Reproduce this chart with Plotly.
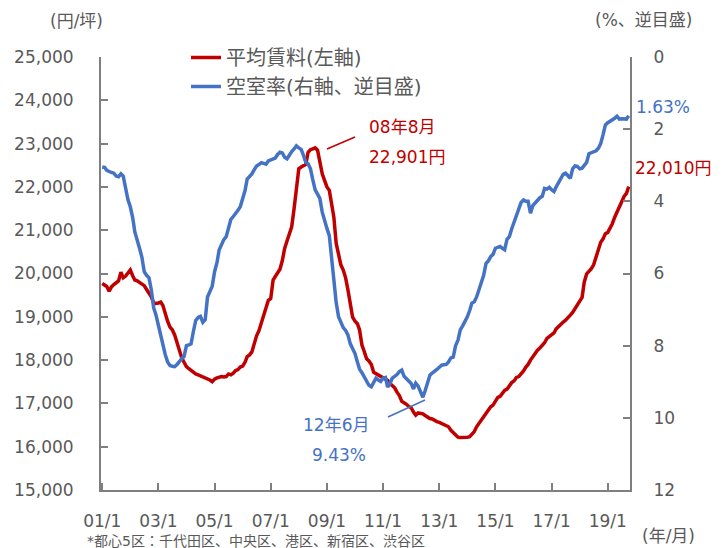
import pandas as pd
import plotly.graph_objects as go

# ---- data (monthly, 2001/1 - 2019/10) ----
start_month = "2001-01-01"

rent = (
    [19770, 19730, 19700, 19590, 19690, 19745, 19780, 19830, 20030, 19900, 19940, 20020]   # 2001
    + [20080, 19950, 19850, 19830, 19790, 19760, 19720, 19630, 19540, 19460, 19320, 19310]  # 2002
    + [19320, 19340, 19260, 19050, 18900, 18760, 18700, 18580, 18400, 18250, 18050, 17950]  # 2003
    + [17850, 17800, 17760, 17720, 17680, 17660, 17640, 17620, 17600, 17580, 17540, 17500]  # 2004
    + [17560, 17590, 17600, 17620, 17610, 17620, 17680, 17660, 17700, 17760, 17780, 17840]  # 2005
    + [17860, 17950, 18080, 18120, 18190, 18400, 18560, 18680, 18860, 19020, 19250, 19380]  # 2006
    + [19420, 19850, 19930, 20020, 20100, 20300, 20580, 20750, 20920, 21080, 21500, 21950]  # 2007
    + [22420, 22460, 22500, 22520, 22800, 22860, 22880, 22901, 22850, 22540, 22300, 22150]  # 2008
    + [22000, 21920, 21600, 21300, 20700, 20400, 20200, 20080, 19900, 19620, 19250, 18990]  # 2009
    + [18900, 18840, 18700, 18350, 18200, 18030, 17980, 17900, 17720, 17690, 17640, 17610]  # 2010
    + [17590, 17570, 17530, 17460, 17420, 17360, 17260, 17180, 17050, 17020, 16980, 16930]  # 2011
    + [16900, 16800, 16730, 16780, 16770, 16760, 16720, 16680, 16650, 16640, 16600, 16580]  # 2012
    + [16560, 16530, 16500, 16490, 16460, 16380, 16330, 16260, 16220, 16210, 16210, 16207]  # 2013
    + [16220, 16230, 16300, 16350, 16460, 16540, 16600, 16700, 16760, 16850, 16920, 16960]  # 2014
    + [17050, 17140, 17160, 17250, 17300, 17330, 17420, 17480, 17520, 17600, 17620, 17680]  # 2015
    + [17750, 17840, 17900, 18000, 18080, 18150, 18230, 18280, 18340, 18400, 18500, 18540]  # 2016
    + [18570, 18630, 18720, 18780, 18840, 18880, 18920, 18970, 19040, 19100, 19190, 19280]  # 2017
    + [19370, 19450, 19800, 19990, 20050, 20110, 20200, 20380, 20520, 20720, 20800, 20920]  # 2018
    + [20950, 21050, 21150, 21300, 21420, 21520, 21650, 21780, 21850, 22010]                # 2019
)

vacancy = (
    [3.05, 3.06, 3.14, 3.18, 3.20, 3.22, 3.30, 3.32, 3.24, 3.30, 3.70, 3.95]   # 2001
    + [4.15, 4.45, 4.85, 5.05, 5.30, 5.55, 5.95, 6.05, 6.12, 6.45, 6.95, 7.15]  # 2002
    + [7.45, 7.75, 7.95, 8.25, 8.45, 8.55, 8.57, 8.58, 8.52, 8.43, 8.36, 8.30]  # 2003
    + [8.00, 7.98, 7.95, 7.60, 7.30, 7.22, 7.19, 7.35, 7.28, 6.65, 6.50, 6.35]  # 2004
    + [5.95, 5.70, 5.35, 5.20, 5.06, 4.98, 4.75, 4.50, 4.42, 4.35, 4.25, 4.15]  # 2005
    + [3.95, 3.70, 3.38, 3.32, 3.24, 3.12, 3.02, 2.98, 2.93, 2.95, 2.97, 2.88]  # 2006
    + [2.86, 2.83, 2.80, 2.70, 2.64, 2.66, 2.78, 2.82, 2.70, 2.62, 2.55, 2.46]  # 2007
    + [2.52, 2.56, 2.72, 2.92, 2.96, 3.10, 3.40, 3.68, 3.80, 3.92, 4.30, 4.55]  # 2008
    + [4.75, 4.95, 5.55, 6.20, 6.80, 7.20, 7.35, 7.50, 7.58, 7.70, 7.95, 8.10]  # 2009
    + [8.22, 8.45, 8.65, 8.75, 8.88, 9.02, 9.10, 9.14, 9.00, 8.90, 8.95, 8.99]  # 2010
    + [8.90, 8.88, 9.15, 9.05, 8.90, 8.85, 8.80, 8.72, 8.68, 8.85, 8.92, 9.01]  # 2011
    + [9.05, 9.20, 9.04, 9.12, 9.27, 9.43, 9.25, 9.05, 8.82, 8.76, 8.72, 8.66]  # 2012
    + [8.60, 8.54, 8.53, 8.52, 8.45, 8.34, 8.32, 8.00, 7.85, 7.56, 7.45, 7.34]  # 2013
    + [7.20, 7.02, 6.82, 6.78, 6.65, 6.45, 6.28, 6.05, 5.72, 5.65, 5.53, 5.47]  # 2014
    + [5.30, 5.28, 5.25, 5.30, 5.34, 5.05, 4.98, 4.76, 4.58, 4.42, 4.20, 4.03]  # 2015
    + [3.96, 4.00, 4.00, 4.33, 4.12, 4.05, 3.96, 3.90, 3.86, 3.64, 3.66, 3.61]  # 2016
    + [3.68, 3.73, 3.60, 3.48, 3.38, 3.25, 3.22, 3.30, 3.36, 3.10, 3.02, 3.03]  # 2017
    + [3.10, 3.08, 3.02, 2.92, 2.68, 2.66, 2.62, 2.60, 2.53, 2.40, 2.15, 1.88]  # 2018
    + [1.82, 1.78, 1.76, 1.70, 1.64, 1.72, 1.71, 1.71, 1.72, 1.63]              # 2019
)

tick_dates = ["2001-01-01", "2003-01-01", "2005-01-01", "2007-01-01", "2009-01-01",
              "2011-01-01", "2013-01-01", "2015-01-01", "2017-01-01", "2019-01-01"]
tick_labels = ["01/1", "03/1", "05/1", "07/1", "09/1", "11/1", "13/1", "15/1", "17/1", "19/1"]
rent_ticks = [15000, 16000, 17000, 18000, 19000, 20000, 21000, 22000, 23000, 24000, 25000]
vac_ticks = [0, 2, 4, 6, 8, 10, 12]

months = pd.date_range(start_month, periods=len(rent), freq="MS")

RED = "#C00000"
BLUE = "#4472C4"
GRAY = "#595959"
AXIS = "#7F7F7F"
FONT = "DejaVu Sans, Noto Sans CJK JP, sans-serif"

W, H = 721, 548
L, R, T, B = 101, 91, 57, 58
PW, PH = W - L - R, H - T - B


def px(x):
    return (x - L) / PW


def py(y):
    return (H - B - y) / PH


fig = go.Figure()
fig.add_trace(go.Scatter(x=months, y=rent, name="平均賃料(左軸)", mode="lines",
                         line=dict(color=RED, width=3.5), yaxis="y"))
fig.add_trace(go.Scatter(x=months, y=vacancy, name="空室率(右軸、逆目盛)", mode="lines",
                         line=dict(color=BLUE, width=3.5), yaxis="y2"))

fig.update_layout(
    width=W, height=H,
    margin=dict(l=L, r=R, t=T, b=B, autoexpand=False),
    paper_bgcolor="white", plot_bgcolor="white",
    font=dict(family=FONT, size=17, color=GRAY),
    showlegend=True,
    legend=dict(x=px(186), y=py(38), xanchor="left", yanchor="top",
                font=dict(size=20, color=GRAY), bgcolor="rgba(0,0,0,0)",
                tracegroupgap=0, itemwidth=30),
    xaxis=dict(
        range=["2000-12-16", "2019-10-17"],
        tickmode="array", tickvals=tick_dates, ticktext=tick_labels,
        ticks="inside", ticklen=7, tickwidth=2, tickcolor=AXIS,
        showline=True, linecolor=AXIS, linewidth=2,
        showgrid=False, zeroline=False, ticklabelstandoff=15,
        tickfont=dict(size=17, color=GRAY), automargin=False,
    ),
    yaxis=dict(
        range=[15000, 25000], tickvals=rent_ticks, tickformat=",d",
        ticks="inside", ticklen=7, tickwidth=2, tickcolor=AXIS,
        showline=True, linecolor=AXIS, linewidth=2,
        showgrid=False, zeroline=False, ticklabelstandoff=22,
        tickfont=dict(size=17, color=GRAY), automargin=False,
    ),
    yaxis2=dict(
        range=[12, 0], tickvals=vac_ticks, overlaying="y", side="right",
        ticks="inside", ticklen=7, tickwidth=2, tickcolor=AXIS,
        showline=True, linecolor=AXIS, linewidth=2,
        showgrid=False, zeroline=False, ticklabelstandoff=18,
        tickfont=dict(size=17, color=GRAY), automargin=False,
    ),
)


def text(s, x, y, color=GRAY, size=17, xanchor="center"):
    fig.add_annotation(text=s, x=px(x), y=py(y), xref="paper", yref="paper",
                       showarrow=False, xanchor=xanchor, yanchor="middle",
                       font=dict(color=color, size=size, family=FONT))


text("(円/坪)", 76, 21)
text("(%、逆目盛)", 643, 20)
text("08年8月", 402, 127, RED)
text("22,901円", 407, 157, RED)
text("12年6月", 336, 425, BLUE)
text("9.43%", 339, 455, BLUE)
text("1.63%", 634, 107, BLUE, xanchor="left")
text("22,010円", 633, 168, RED, xanchor="left")
text("(年/月)", 668, 536)
text("*都心5区：千代田区、中央区、港区、新宿区、渋谷区", 85, 541, xanchor="left", size=14)

fig.add_shape(type="line", xref="paper", yref="paper",
              x0=px(327), y0=py(149), x1=px(355), y1=py(137),
              line=dict(color=RED, width=1.5))
fig.add_shape(type="line", xref="paper", yref="paper",
              x0=px(388), y0=py(417), x1=px(425), y1=py(400),
              line=dict(color=BLUE, width=1.5))

fig.write_html(
    "out.html",
    config={"displayModeBar": False},
    post_script="document.body.style.margin='0';document.body.style.overflow='hidden';",
)
